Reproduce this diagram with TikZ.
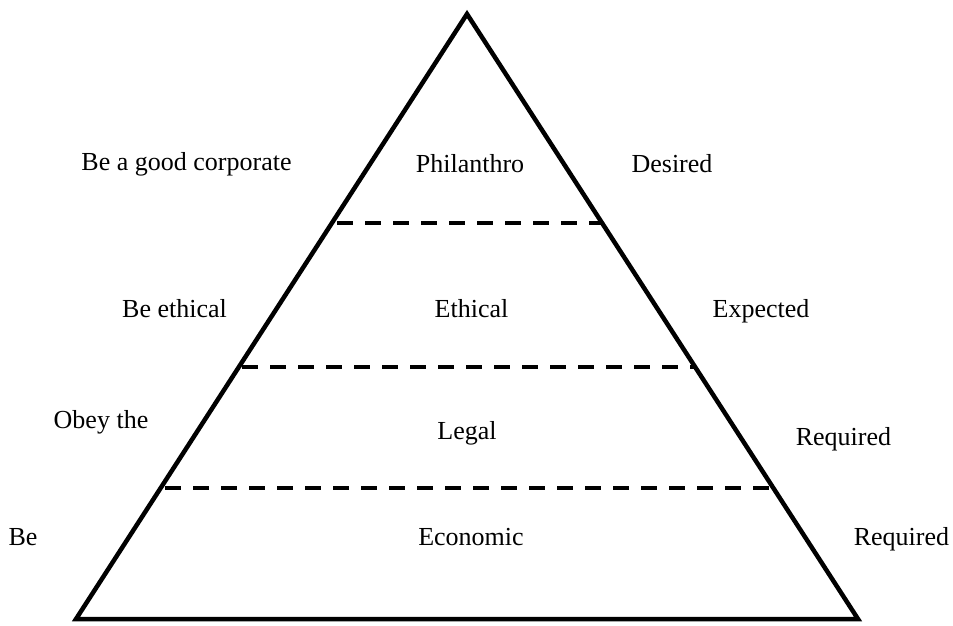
\documentclass[tikz,border=0pt]{standalone}
\usepackage{fontspec}
\setmainfont{Liberation Serif}
\begin{document}
\begin{tikzpicture}[x=1pt,y=-1pt,
  lbl/.style={anchor=base,inner sep=0pt,font=\fontsize{26}{30}\selectfont},
  edge/.style={line width=4.5pt,line join=miter},
  divider/.style={line width=3.5pt,dash pattern=on 16pt off 12pt}]
\useasboundingbox (0,0) rectangle (953,625);
% triangle
\coordinate (apex) at (467,14);
\coordinate (bl) at (76,619);
\coordinate (br) at (858,619);
\draw[edge] (apex) -- (bl) -- (br) -- cycle;
% dividers
\coordinate (d1l) at (337,223);
\coordinate (d1r) at (602,223);
\coordinate (d2l) at (242,367);
\coordinate (d2r) at (695,367);
\coordinate (d3l) at (165,488);
\coordinate (d3r) at (773,488);
\draw[divider] (d1l) -- (d1r);
\draw[divider] (d2l) -- (d2r);
\draw[divider] (d3l) -- (d3r);
% labels
\node[lbl] (t1l) at (186.5,170) {Be a good corporate};
\node[lbl] (t1c) at (470,172) {Philanthro};
\node[lbl] (t1r) at (672,172) {Desired};
\node[lbl] (t2l) at (174.5,317) {Be ethical};
\node[lbl] (t2c) at (471.5,317) {Ethical};
\node[lbl] (t2r) at (761,317) {Expected};
\node[lbl] (t3l) at (101,428) {Obey the};
\node[lbl] (t3c) at (467,439) {Legal};
\node[lbl] (t3r) at (843.5,445) {Required};
\node[lbl] (t4l) at (23,545) {Be};
\node[lbl] (t4c) at (471,545) {Economic};
\node[lbl] (t4r) at (901.5,545) {Required};
\end{tikzpicture}
\end{document}
